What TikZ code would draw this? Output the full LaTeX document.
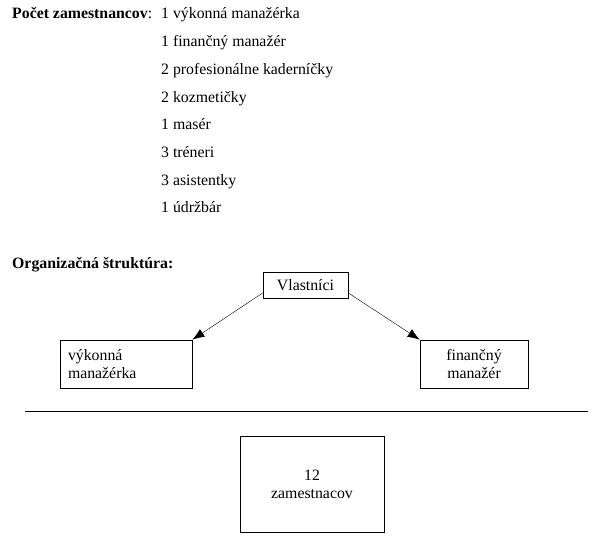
\documentclass[tikz,border=0pt]{standalone}
\usepackage{fontspec}
\setmainfont{Liberation Serif}
\usetikzlibrary{arrows.meta,calc}
\tikzset{
  box/.style={draw, thick, inner sep=4pt, font=\fontsize{15.8}{18}\selectfont},
  txt/.style={inner sep=0pt, anchor=base west, font=\fontsize{15.8}{18}\selectfont}
}
\begin{document}
\begin{tikzpicture}[x=1pt, y=-1pt, >={Latex[length=12pt,width=9pt]}]
    \useasboundingbox (0,0) rectangle (596,545);
    % Počet zamestnancov
    \node[txt] (pocet) at (12,19) {\textbf{Počet zamestnancov}:};
    \foreach \t [count=\i from 0] in {1 výkonná manažérka, 1 finančný manažér,
        2 profesionálne kaderníčky, 2 kozmetičky, 1 masér, 3 tréneri,
        3 asistentky, 1 údržbár} {
        \node[txt] (item\i) at (161,19+27.7*\i) {\t};
    }

    % Organizačná štruktúra
    \node[txt] (org) at (12,268) {\textbf{Organizačná štruktúra:}};
    \node[box, minimum width=85, minimum height=26] (own) at (305.5,285) {Vlastníci};
    \node[box, minimum width=132, minimum height=48, text width=116, align=left]
        (vm) at (126,364) {výkonná\\manažérka};
    \node[box, minimum width=108, minimum height=48, align=center]
        (fm) at (474,364) {finančný\\manažér};
    \draw[->] ($(own.south west)!0.2!(own.north west)$) -- (vm.north east);
    \draw[->] ($(own.south east)!0.2!(own.north east)$) -- (fm.north west);

    % Oddelenie
    \coordinate (l) at (25,411);
    \coordinate (r) at (588,411);
    \draw (l) -- (r);

    \node[box, minimum width=144, minimum height=96, align=center]
        (staff) at (312,484) {12\\zamestnacov};
\end{tikzpicture}
\end{document}
